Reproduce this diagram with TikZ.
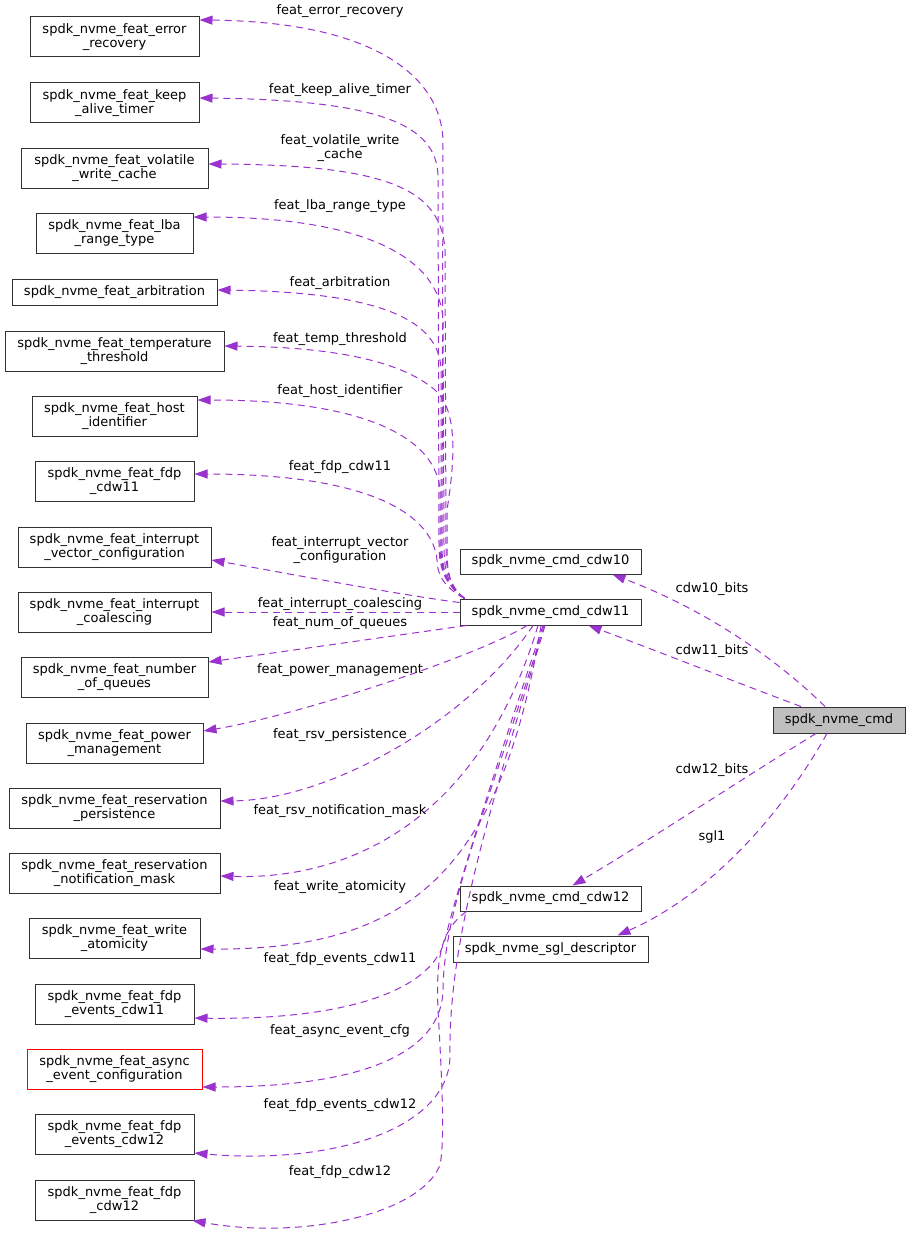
\documentclass[tikz,border=0pt]{standalone}
\usepackage{fontspec}
\setmainfont{DejaVu Sans}
\usetikzlibrary{arrows.meta}
\definecolor{edgec}{RGB}{154,50,205}
\definecolor{boxc}{RGB}{50,50,50}
\definecolor{cmdfill}{RGB}{191,191,191}
\definecolor{redc}{RGB}{255,0,0}
\begin{document}
\begin{tikzpicture}[x=1pt,y=-1pt,
  box/.style={draw=boxc, line width=1pt, fill=white, inner sep=0pt, align=center, font=\fontsize{13}{14.5}\selectfont},
  redbox/.style={box, draw=redc},
  lbl/.style={inner sep=0pt, align=center, font=\fontsize{13}{14.5}\selectfont},
  edge/.style={draw=edgec, line width=1pt, dash pattern=on 7pt off 5pt, -{Triangle[length=13pt,width=9pt,fill=edgec]}},
]
\useasboundingbox (0,0) rectangle (911,1236);
\fill[white] (0,0) rectangle (911,1236);

% left nodes
\node[box, minimum width=169, minimum height=40] (er) at (114.5,37) {spdk\_nvme\_feat\_error\\\_recovery};
\node[box, minimum width=169, minimum height=40] (kat) at (114.5,103) {spdk\_nvme\_feat\_keep\\\_alive\_timer};
\node[box, minimum width=187, minimum height=40] (vwc) at (114.5,168) {spdk\_nvme\_feat\_volatile\\\_write\_cache};
\node[box, minimum width=157, minimum height=40] (lba) at (114.5,233) {spdk\_nvme\_feat\_lba\\\_range\_type};
\node[box, minimum width=205, minimum height=26] (arb) at (114.5,292) {spdk\_nvme\_feat\_arbitration};
\node[box, minimum width=219, minimum height=40] (temp) at (114.5,351) {spdk\_nvme\_feat\_temperature\\\_threshold};
\node[box, minimum width=165, minimum height=40] (host) at (114.5,416) {spdk\_nvme\_feat\_host\\\_identifier};
\node[box, minimum width=159, minimum height=40] (fdp11) at (114.5,481) {spdk\_nvme\_feat\_fdp\\\_cdw11};
\node[box, minimum width=193, minimum height=40] (ivc) at (114.5,547) {spdk\_nvme\_feat\_interrupt\\\_vector\_configuration};
\node[box, minimum width=193, minimum height=40] (ic) at (114.5,612) {spdk\_nvme\_feat\_interrupt\\\_coalescing};
\node[box, minimum width=187, minimum height=40] (nq) at (114.5,677) {spdk\_nvme\_feat\_number\\\_of\_queues};
\node[box, minimum width=177, minimum height=40] (pm) at (114.5,743) {spdk\_nvme\_feat\_power\\\_management};
\node[box, minimum width=211, minimum height=40] (rp) at (114.5,808) {spdk\_nvme\_feat\_reservation\\\_persistence};
\node[box, minimum width=211, minimum height=40] (rnm) at (114.5,873) {spdk\_nvme\_feat\_reservation\\\_notification\_mask};
\node[box, minimum width=171, minimum height=40] (wa) at (114.5,938) {spdk\_nvme\_feat\_write\\\_atomicity};
\node[box, minimum width=159, minimum height=40] (fe11) at (114.5,1004) {spdk\_nvme\_feat\_fdp\\\_events\_cdw11};
\node[redbox, minimum width=175, minimum height=40] (aec) at (114.5,1069) {spdk\_nvme\_feat\_async\\\_event\_configuration};
\node[box, minimum width=159, minimum height=40] (fe12) at (114.5,1134) {spdk\_nvme\_feat\_fdp\\\_events\_cdw12};
\node[box, minimum width=159, minimum height=40] (fdp12) at (114.5,1200) {spdk\_nvme\_feat\_fdp\\\_cdw12};

% right nodes
\node[box, minimum width=181, minimum height=25] (cdw10) at (550.5,561.5) {spdk\_nvme\_cmd\_cdw10};
\node[box, minimum width=181, minimum height=26] (cdw11) at (550.5,612) {spdk\_nvme\_cmd\_cdw11};
\node[box, fill=cmdfill, minimum width=132, minimum height=26] (cmd) at (839,720) {spdk\_nvme\_cmd};
\node[box, minimum width=181, minimum height=25] (cdw12) at (550.5,898.5) {spdk\_nvme\_cmd\_cdw12};
\node[box, minimum width=195, minimum height=26] (sgl) at (550.5,949) {spdk\_nvme\_sgl\_descriptor};

% edges from cdw11 (upper)
\draw[edge] ([xshift=5pt]cdw11.north west) .. controls (446,585) and (442,570) .. (442,545) -- (443,140) .. controls (441,80) and (380,22) .. ([yshift=17pt]er.east);
\draw[edge] ([xshift=5pt]cdw11.north west) .. controls (446,585) and (439,570) .. (439,545) -- (438,175) .. controls (436,125) and (380,100) .. ([yshift=5pt]kat.east);
\draw[edge] ([xshift=5pt]cdw11.north west) .. controls (448,585) and (446,570) .. (446,545) -- (445,250) .. controls (441,190) and (390,165) .. ([yshift=4pt]vwc.east);
\draw[edge] ([xshift=5pt]cdw11.north west) .. controls (447,585) and (444,570) .. (444,545) -- (443,320) .. controls (440,260) and (370,217) .. ([yshift=16pt]lba.east);
\draw[edge] ([xshift=5pt]cdw11.north west) .. controls (446,585) and (441,570) .. (441,545) -- (441,370) .. controls (440,320) and (380,292) .. ([yshift=2pt]arb.east);
\draw[edge] ([xshift=5pt]cdw11.north west) .. controls (448,585) and (447,570) .. (447,545) -- (447,510) .. controls (455,460) and (458,410) .. (435,390) .. controls (400,360) and (330,347) .. ([yshift=5pt]temp.east);
\draw[edge] ([xshift=5pt]cdw11.north west) .. controls (446,585) and (440,570) .. (440,545) -- (440,490) .. controls (436,440) and (370,400) .. ([yshift=16pt]host.east);
\draw[edge] ([xshift=5pt]cdw11.north west) .. controls (445,588) and (437,575) .. (437,560) .. controls (432,510) and (360,474) .. ([yshift=7pt]fdp11.east);
\draw[edge] ([yshift=-4pt]cdw11.north west) .. controls (400,595) and (280,572) .. ([yshift=-13pt]ivc.east);
\draw[edge] (cdw11.west) -- (ic.east);
% edges from cdw11 (lower)
\draw[edge] ([xshift=7pt]cdw11.south west) .. controls (400,635) and (280,652) .. ([yshift=15pt]nq.east);
\draw[edge] ([xshift=-23.5pt]cdw11.south) .. controls (480,655) and (300,715) .. ([yshift=12pt]pm.east);
\draw[edge] ([xshift=-17.5pt]cdw11.south) .. controls (470,720) and (330,800) .. ([yshift=7pt]rp.east);
\draw[edge] ([xshift=-12.5pt]cdw11.south) .. controls (480,820) and (350,880) .. ([yshift=-3pt]rnm.east);
\draw[edge] ([xshift=-9.5pt]cdw11.south) .. controls (500,880) and (400,950) .. ([yshift=-11pt]wa.east);
\draw[edge] ([xshift=-7.5pt]cdw11.south) .. controls (495,770) and (458,885) .. (445,940) .. controls (428,1000) and (320,1020) .. ([yshift=-14pt]fe11.east);
\draw[edge] ([xshift=-6.5pt]cdw11.south) .. controls (495,790) and (444,900) .. (443,990) .. controls (442,1045) and (380,1087) .. ([yshift=-18pt]aec.east);
\draw[edge] ([xshift=-5.5pt]cdw11.south) .. controls (490,810) and (448,940) .. (450,1057) .. controls (448,1130) and (330,1165) .. ([yshift=-19pt]fe12.east);
\draw[edge] ([xshift=7pt]cdw12.south west) .. controls (440,930) and (436,960) .. (438,1010) .. controls (442,1080) and (445,1140) .. (440,1165) .. controls (420,1215) and (300,1240) .. ([xshift=-2pt]fdp12.south east);

% edges from cmd
\draw[edge] ([xshift=-14pt]cmd.north) .. controls (790,672) and (720,615) .. ([xshift=62pt]cdw10.south);
\draw[edge] ([xshift=-38pt]cmd.north) .. controls (730,680) and (660,652) .. ([xshift=38pt]cdw11.south);
\draw[edge] ([xshift=-23pt]cmd.south) .. controls (740,780) and (650,840) .. ([xshift=22pt]cdw12.north);
\draw[edge] ([xshift=-12pt]cmd.south) .. controls (790,800) and (720,890) .. ([xshift=67pt]sgl.north);

% labels
\node[lbl] (l1) at (340,11) {feat\_error\_recovery};
\node[lbl] (l2) at (340,90) {feat\_keep\_alive\_timer};
\node[lbl] (l3) at (340,148) {feat\_volatile\_write\\\_cache};
\node[lbl] (l4) at (340,206) {feat\_lba\_range\_type};
\node[lbl] (l5) at (340,283) {feat\_arbitration};
\node[lbl] (l6) at (340,339) {feat\_temp\_threshold};
\node[lbl] (l7) at (340,391) {feat\_host\_identifier};
\node[lbl] (l8) at (340,467) {feat\_fdp\_cdw11};
\node[lbl] (l9) at (340,550) {feat\_interrupt\_vector\\\_configuration};
\node[lbl] (l10) at (340,604) {feat\_interrupt\_coalescing};
\node[lbl] (l11) at (340,623) {feat\_num\_of\_queues};
\node[lbl] (l12) at (340,670) {feat\_power\_management};
\node[lbl] (l13) at (340,735) {feat\_rsv\_persistence};
\node[lbl] (l14) at (340,811) {feat\_rsv\_notification\_mask};
\node[lbl] (l15) at (340,887) {feat\_write\_atomicity};
\node[lbl] (l16) at (340,959) {feat\_fdp\_events\_cdw11};
\node[lbl] (l17) at (340,1031) {feat\_async\_event\_cfg};
\node[lbl] (l18) at (340,1105) {feat\_fdp\_events\_cdw12};
\node[lbl] (l19) at (340,1172) {feat\_fdp\_cdw12};
\node[lbl] (l20) at (712,589) {cdw10\_bits};
\node[lbl] (l21) at (712,651) {cdw11\_bits};
\node[lbl] (l22) at (712,770) {cdw12\_bits};
\node[lbl] (l23) at (712,837) {sgl1};
\end{tikzpicture}
\end{document}
